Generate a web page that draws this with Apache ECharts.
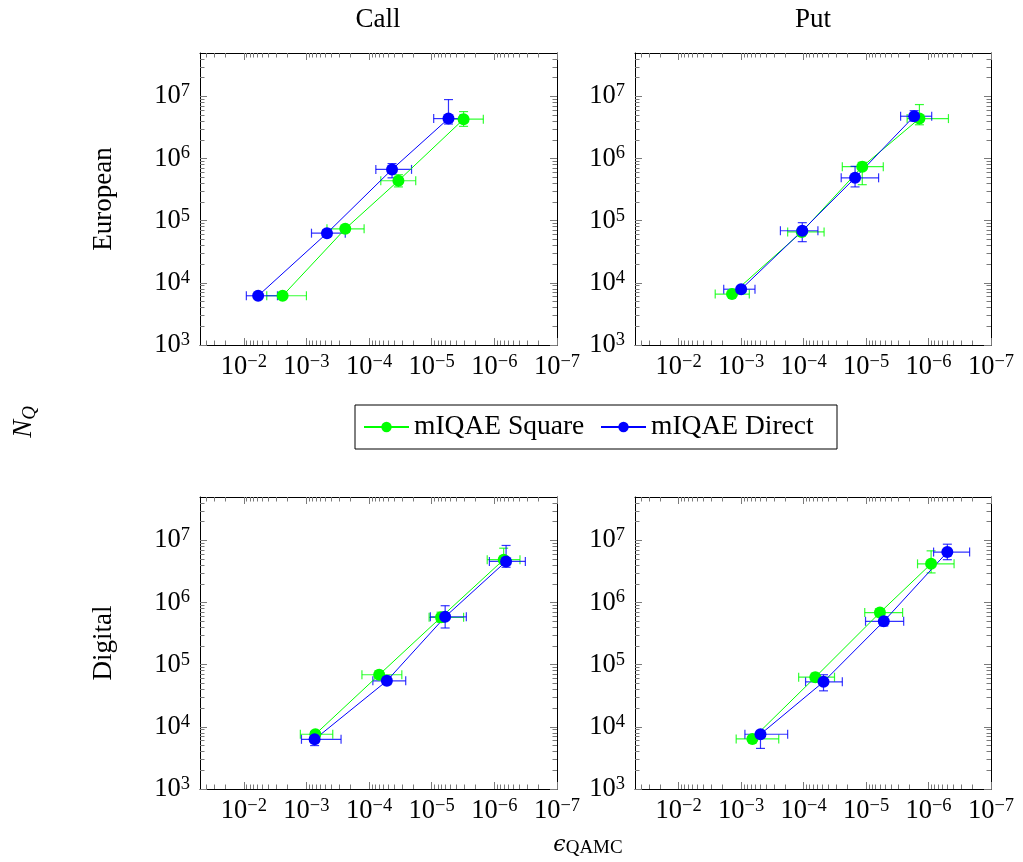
<!DOCTYPE html>
<html>
<head>
<meta charset="utf-8">
<script src="https://cdn.jsdelivr.net/npm/echarts@6/dist/echarts.min.js"></script>
<style>
html, body { margin: 0; padding: 0; background: #fff; }
#chart { width: 1023px; height: 862px; }
</style>
</head>
<body>
<div id="chart"></div>
<script>
// each point: [x, y, xMin, xMax, yMin, yMax]  (error bar ends)
var euroCallSquare = [
  [2.4e-3, 6.2e3, 1.0e-3, 4.3e-3, 5.7e3, 6.8e3],
  [2.4e-4, 7.4e4, 1.2e-4, 4.7e-4, 6.5e4, 8.4e4],
  [3.4e-5, 4.4e5, 1.8e-5, 6.5e-5, 3.5e5, 5.5e5],
  [3.1e-6, 4.3e6, 1.5e-6, 5.4e-6, 3.3e6, 5.7e6]
];
var euroCallDirect = [
  [5.9e-3, 6.2e3, 2.9e-3, 9.1e-3, 5.8e3, 6.6e3],
  [4.7e-4, 6.3e4, 2.4e-4, 8.3e-4, 5.6e4, 7.2e4],
  [4.3e-5, 6.7e5, 2.1e-5, 7.8e-5, 4.9e5, 8.3e5],
  [5.4e-6, 4.4e6, 3.5e-6, 9.3e-6, 3.6e6, 8.9e6]
];
var euroPutSquare = [
  [1.4e-3, 6.6e3, 7.4e-4, 2.6e-3, 6.0e3, 7.2e3],
  [1.07e-4, 6.6e4, 4.7e-5, 1.8e-4, 6.0e4, 7.3e4],
  [1.15e-5, 7.4e5, 5.3e-6, 2.4e-5, 3.8e5, 8.7e5],
  [1.4e-6, 4.4e6, 4.8e-7, 2.2e-6, 3.5e6, 7.4e6]
];
var euroPutDirect = [
  [1.0e-3, 7.9e3, 6.0e-4, 1.9e-3, 7.2e3, 8.7e3],
  [1.05e-4, 6.9e4, 5.9e-5, 2.35e-4, 4.6e4, 9.3e4],
  [1.5e-5, 4.9e5, 6.3e-6, 2.5e-5, 3.5e5, 7.5e5],
  [1.7e-6, 4.8e6, 8.9e-7, 2.8e-6, 4.0e6, 5.9e6]
];
var digitalCallSquare = [
  [7.2e-4, 7.6e3, 3.8e-4, 1.25e-3, 6.9e3, 8.4e3],
  [6.9e-5, 6.9e4, 3.0e-5, 1.3e-4, 6.0e4, 8.0e4],
  [7.1e-6, 5.8e5, 3.1e-6, 1.1e-5, 4.8e5, 7.0e5],
  [7.1e-7, 4.9e6, 3.9e-7, 1.3e-6, 4.2e6, 7.5e6]
];
var digitalCallDirect = [
  [7.4e-4, 6.3e3, 2.8e-4, 1.2e-3, 5.0e3, 8.4e3],
  [5.2e-5, 5.5e4, 2.6e-5, 8.7e-5, 4.8e4, 6.5e4],
  [6.1e-6, 5.9e5, 2.8e-6, 1.05e-5, 3.9e5, 8.9e5],
  [6.5e-7, 4.6e6, 3.2e-7, 1.2e-6, 3.7e6, 8.3e6]
];
var digitalPutSquare = [
  [6.6e-4, 6.4e3, 2.5e-4, 1.2e-3, 5.8e3, 7.0e3],
  [6.5e-5, 6.3e4, 3.2e-5, 1.2e-4, 5.5e4, 7.3e4],
  [6.0e-6, 6.9e5, 2.6e-6, 1.05e-5, 5.9e5, 8.0e5],
  [9.1e-7, 4.2e6, 3.9e-7, 1.5e-6, 3.0e6, 6.8e6]
];
var digitalPutDirect = [
  [4.9e-4, 7.6e3, 1.8e-4, 8.7e-4, 4.5e3, 8.6e3],
  [4.8e-5, 5.3e4, 2.4e-5, 9.3e-5, 3.8e4, 6.9e4],
  [5.2e-6, 5.0e5, 2.5e-6, 1.02e-5, 4.2e5, 5.9e5],
  [5.0e-7, 6.5e6, 2.2e-7, 8.3e-7, 4.9e6, 8.7e6]
];

var xTickLabels = [1e-2, 1e-3, 1e-4, 1e-5, 1e-6, 1e-7];
var yTickLabels = [1e3, 1e4, 1e5, 1e6, 1e7];
var columnTitles = ['Call', 'Put'];
var rowTitles = ['European', 'Digital'];
var seriesNames = ['mIQAE Square', 'mIQAE Direct'];

var xMin = 1e-7, xMax = 5e-2, yMin = 1e3, yMax = 5e7;
var green = '#00ff00', blue = '#0000ff';
var font = 'Liberation Serif';

function minorTicks(lo, hi) {
  var out = [];
  for (var e = -9; e <= 8; e++) {
    for (var m = 2; m <= 9; m++) {
      var v = m * Math.pow(10, e);
      if (v > lo * 1.0001 && v < hi * 0.9999) out.push(v);
    }
  }
  return out;
}
var xMinor = minorTicks(xMin, xMax);
var yMinor = minorTicks(yMin, yMax);

function powLabel(v) {
  var e = Math.round(Math.log10(v));
  return '{b|10}{s|' + (e < 0 ? '\u2212' + (-e) : e) + '}';
}
var powRich = {
  b: { fontFamily: font, fontSize: 26.5, lineHeight: 29, color: '#000' },
  s: { fontFamily: font, fontSize: 18.5, lineHeight: 18, verticalAlign: 'top', color: '#000' }
};

var panels = [
  { grid: { left: 200, top: 53, width: 357, height: 292 }, square: euroCallSquare, direct: euroCallDirect },
  { grid: { left: 635, top: 53, width: 356, height: 292 }, square: euroPutSquare, direct: euroPutDirect },
  { grid: { left: 200, top: 497, width: 357, height: 292 }, square: digitalCallSquare, direct: digitalCallDirect },
  { grid: { left: 635, top: 497, width: 356, height: 292 }, square: digitalPutSquare, direct: digitalPutDirect }
];

var grids = [], xAxes = [], yAxes = [], series = [];

function makeAxis(dim, g, pos, ticks, len, labels, line) {
  var a = {
    type: 'log', logBase: 10, gridIndex: g, position: pos,
    min: dim === 'x' ? xMin : yMin,
    max: dim === 'x' ? xMax : yMax,
    inverse: dim === 'x',
    splitLine: { show: false },
    axisLine: { show: line, lineStyle: { color: '#000', width: 1 } },
    axisTick: { show: true, inside: true, length: len, customValues: ticks,
      lineStyle: { color: '#7a7a7a', width: 1 } },
    axisLabel: { show: labels }
  };
  if (labels) {
    a.axisLabel = {
      show: true, customValues: dim === 'x' ? xTickLabels : yTickLabels,
      formatter: powLabel, rich: powRich, margin: dim === 'x' ? 8 : 10
    };
  }
  return a;
}

function errorSeries(data, color, g) {
  return {
    type: 'custom', name: 'err', xAxisIndex: 4 * g, yAxisIndex: 4 * g, z: 2,
    data: data, encode: { x: 0, y: 1 }, silent: true,
    renderItem: function (params, api) {
      var x = api.value(0), y = api.value(1);
      var l = api.coord([api.value(2), y]), r = api.coord([api.value(3), y]);
      var b = api.coord([x, api.value(4)]), t = api.coord([x, api.value(5)]);
      var c = 4.5;
      var st = { stroke: color, lineWidth: 1.2, opacity: 0.8 };
      function ln(x1, y1, x2, y2) {
        return { type: 'line', shape: { x1: x1, y1: y1, x2: x2, y2: y2 }, style: st };
      }
      return { type: 'group', children: [
        ln(l[0], l[1], r[0], r[1]), ln(l[0], l[1] - c, l[0], l[1] + c), ln(r[0], r[1] - c, r[0], r[1] + c),
        ln(b[0], b[1], t[0], t[1]), ln(b[0] - c, b[1], b[0] + c, b[1]), ln(t[0] - c, t[1], t[0] + c, t[1])
      ] };
    }
  };
}

function lineSeries(name, data, color, g) {
  return {
    type: 'line', name: name, xAxisIndex: 4 * g, yAxisIndex: 4 * g, z: 2,
    data: data.map(function (d) { return [d[0], d[1]]; }),
    symbol: 'circle', symbolSize: 12,
    lineStyle: { color: color, width: 1 },
    itemStyle: { color: color }
  };
}

panels.forEach(function (p, g) {
  grids.push(p.grid);
  xAxes.push(makeAxis('x', g, 'bottom', xTickLabels, 7, true, true));
  xAxes.push(makeAxis('x', g, 'bottom', xMinor, 4.5, false, false));
  xAxes.push(makeAxis('x', g, 'top', xTickLabels, 7, false, true));
  xAxes.push(makeAxis('x', g, 'top', xMinor, 4.5, false, false));
  yAxes.push(makeAxis('y', g, 'left', yTickLabels, 7, true, true));
  yAxes.push(makeAxis('y', g, 'left', yMinor, 4.5, false, false));
  yAxes.push(makeAxis('y', g, 'right', yTickLabels, 7, false, true));
  yAxes.push(makeAxis('y', g, 'right', yMinor, 4.5, false, false));
  series.push(errorSeries(p.square, green, g));
  series.push(lineSeries(seriesNames[0], p.square, green, g));
  series.push(errorSeries(p.direct, blue, g));
  series.push(lineSeries(seriesNames[1], p.direct, blue, g));
});

var textStyle = { fontFamily: font, fontSize: 27, fill: '#000' };
function txt(x, y, text, rot, extra) {
  var st = Object.assign({}, textStyle, { text: text, align: 'center', verticalAlign: 'middle' }, extra || {});
  return { type: 'text', x: x, y: y, rotation: rot || 0, style: st, silent: true };
}

var chart = echarts.init(document.getElementById('chart'), null, { renderer: 'canvas' });
chart.setOption({
  animation: false,
  backgroundColor: '#fff',
  grid: grids,
  xAxis: xAxes,
  yAxis: yAxes,
  legend: {
    data: seriesNames, left: 355, top: 405,
    padding: [7, 8, 7, 8], itemGap: 8, itemWidth: 45, itemHeight: 13,
    borderColor: '#000', borderWidth: 1, borderRadius: 0,
    textStyle: { fontFamily: font, fontSize: 27.5, color: '#000', width: 178, lineHeight: 30 }
  },
  graphic: [
    txt(378, 20, columnTitles[0]),
    txt(813, 20, columnTitles[1]),
    txt(104, 199, rowTitles[0], Math.PI / 2),
    txt(104, 643, rowTitles[1], Math.PI / 2),
    txt(24, 422, '{i|N}{q|Q}', Math.PI / 2, {
      rich: {
        i: { fontFamily: font, fontStyle: 'italic', fontSize: 27, lineHeight: 30 },
        q: { fontFamily: font, fontStyle: 'italic', fontSize: 19, lineHeight: 18, verticalAlign: 'bottom' }
      }
    }),
    txt(588, 845, '{e|\u03f5}{q|QAMC}', 0, {
      rich: {
        e: { fontFamily: 'DejaVu Serif', fontStyle: 'italic', fontSize: 22, lineHeight: 26 },
        q: { fontFamily: font, fontSize: 19, lineHeight: 16, verticalAlign: 'bottom' }
      }
    })
  ],
  series: series
});
</script>
</body>
</html>
